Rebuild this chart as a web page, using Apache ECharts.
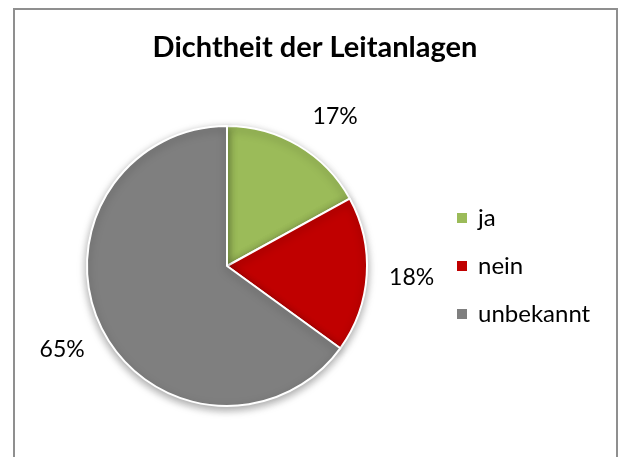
<!DOCTYPE html>
<html><head><meta charset="utf-8">
<script src="https://cdn.jsdelivr.net/npm/echarts@6/dist/echarts.min.js"></script>
<style>
html,body{margin:0;padding:0;background:#fff;overflow:hidden;}
#frame{position:absolute;left:13px;top:8px;width:605px;height:470px;border:2px solid #8f8f8f;box-sizing:border-box;}
#chart{position:absolute;left:0;top:0;width:619px;height:457px;}
</style></head>
<body>
<div id="frame"></div>
<div id="chart"></div>
<script>
const titleText = 'Dichtheit der Leitanlagen';
const categories = ['ja', 'nein', 'unbekannt'];
const values = [17, 18, 65];
const colors = ['#9BBB59', '#C00000', '#7F7F7F'];

const data = categories.map((c, i) => ({ name: c, value: values[i], itemStyle: { color: colors[i] } }));
const font = 'Lato, "Open Sans", sans-serif';

const chart = echarts.init(document.getElementById('chart'), null, { renderer: 'canvas' });
chart.setOption({
  animation: false,
  backgroundColor: 'transparent',
  title: {
    text: titleText, left: 315, top: 33, textAlign: 'center', padding: 0,
    textStyle: { fontFamily: font, fontWeight: 'bold', fontSize: 29, color: '#000' }
  },
  legend: {
    orient: 'vertical', left: 455, top: 206, padding: 0,
    itemWidth: 12, itemHeight: 12, itemGap: 24, icon: 'rect',
    data: categories,
    textStyle: { fontFamily: font, fontSize: 24, color: '#000', lineHeight: 24, padding: [0, 0, 0, 5] }
  },
  series: [
    {
      type: 'pie', center: [227, 266], radius: [0, 140], startAngle: 90, clockwise: true,
      data: data,
      itemStyle: { borderColor: '#fff', borderWidth: 2, shadowBlur: 8, shadowColor: 'rgba(0,0,0,0.35)', shadowOffsetY: 3 },
      label: { show: false }, labelLine: { show: false },
      emphasis: { disabled: true }
    },
    {
      type: 'pie', center: [227, 266], radius: [152, 212], startAngle: 90, clockwise: true,
      data: data.map((d, i) => ({ name: d.name, value: d.value, label: i === 0 ? { offset: [14, 10] } : {} })),
      itemStyle: { color: 'rgba(0,0,0,0)' },
      silent: true, legendHoverLink: false,
      label: { show: true, position: 'inside', formatter: '{c}%', fontFamily: font, fontSize: 23, color: '#000' },
      labelLine: { show: false },
      emphasis: { disabled: true }
    }
  ]
});
</script>
</body></html>
